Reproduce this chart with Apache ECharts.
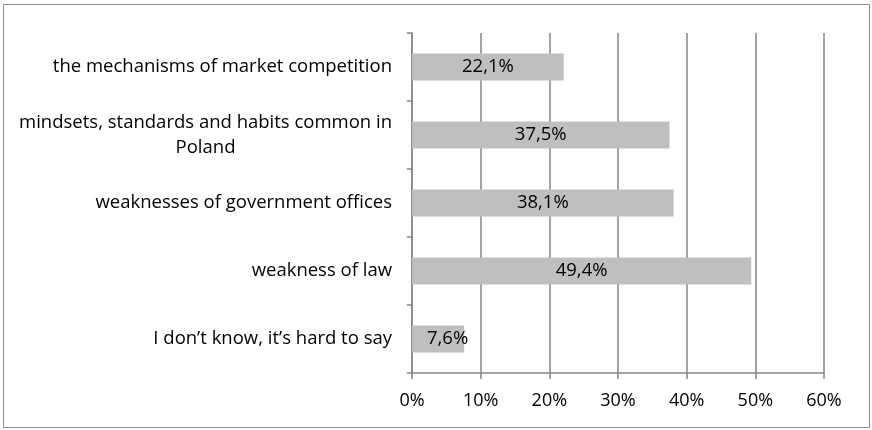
<!DOCTYPE html>
<html>
<head>
<meta charset="utf-8">
<script src="https://cdn.jsdelivr.net/npm/echarts@6/dist/echarts.min.js"></script>
<style>html,body{margin:0;padding:0;background:#fff;}#c{width:872px;height:430px;}</style>
</head>
<body>
<div id="c"></div>
<script>
// Categories listed bottom-to-top (ECharts category y-axis starts at bottom)
var categories = [
  "I don\u2019t know, it\u2019s hard to say",
  "weakness of law",
  "weaknesses of government offices",
  "mindsets, standards and habits common in\nPoland",
  "the mechanisms of market competition"
];
var values = [7.6, 49.4, 38.1, 37.5, 22.1];
var xTicks = [0, 10, 20, 30, 40, 50, 60];

var FONT = "Open Sans";
var chart = echarts.init(document.getElementById('c'));

var seriesData = values.map(function (v) {
  var d = { value: v };
  if (v < 10) {
    d.label = { position: 'insideLeft', distance: 15 };
  }
  return d;
});

chart.setOption({
  animation: false,
  textStyle: { fontFamily: FONT },
  graphic: [{
    type: 'rect',
    shape: { x: 3.5, y: 4.5, width: 866, height: 423 },
    style: { fill: null, stroke: '#8c8c8c', lineWidth: 1 },
    silent: true
  }],
  grid: { left: 412, right: 48, top: 33, bottom: 57, containLabel: false },
  xAxis: {
    type: 'value',
    min: xTicks[0],
    max: xTicks[xTicks.length - 1],
    interval: 10,
    axisLine: { show: true, lineStyle: { color: '#868686', width: 1.5 } },
    axisTick: { show: true, length: 6, lineStyle: { color: '#868686', width: 1.5 } },
    axisLabel: {
      formatter: function (v) { return v + '%'; },
      color: '#000', fontSize: 18, fontFamily: FONT, margin: 19
    },
    splitLine: { show: true, lineStyle: { color: '#868686', width: 1.5 } }
  },
  yAxis: {
    type: 'category',
    data: categories,
    axisLine: { show: true, lineStyle: { color: '#868686', width: 1.5 } },
    axisTick: { show: true, length: 5, alignWithLabel: false, lineStyle: { color: '#868686', width: 1.5 } },
    axisLabel: {
      color: '#000', fontSize: 18.5, fontFamily: FONT, margin: 20,
      lineHeight: 25,
      formatter: function (v) {
        if (v.indexOf('\n') >= 0) {
          var parts = v.split('\n');
          return '{a|' + parts[0] + '}\n{c|' + parts[1] + '}';
        }
        return v;
      },
      rich: {
        a: { fontSize: 18.5, fontFamily: FONT, color: '#000', lineHeight: 25 },
        c: { fontSize: 18.5, fontFamily: FONT, color: '#000', lineHeight: 25, align: 'center' }
      }
    },
    splitLine: { show: false }
  },
  series: [{
    type: 'bar',
    data: seriesData,
    barCategoryGap: '60%',
    itemStyle: { color: '#bfbfbf' },
    label: {
      show: true,
      position: 'inside',
      color: '#000',
      fontSize: 18.5,
      fontFamily: FONT,
      formatter: function (p) { return p.value.toFixed(1).replace('.', ',') + '%'; }
    }
  }]
});
</script>
</body>
</html>
